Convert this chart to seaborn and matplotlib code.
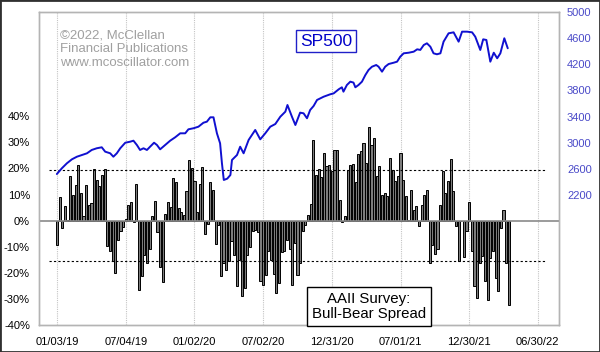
import numpy as np
import pandas as pd
import matplotlib
matplotlib.use("Agg")
import matplotlib.pyplot as plt
import matplotlib.dates as mdates
from matplotlib.patches import Rectangle
import seaborn as sns

# ---------------- data ----------------
START = "2019-01-03"  # first weekly AAII reading (Thursday)

# AAII bull-bear spread (%), weekly
spread = [
    -9.5, 8.9, -2.8, 5.5, 0.3, 17.0, 10.0, 13.8, 21.5, 10.6,
    1.7, 13.5, 6.1, 6.8, 19.8, 15.7, 13.3, 17.4, 19.8, -9.6,
    -11.5, -15.3, -20.0, -7.6, -3.8, -2.3, 0.8, 6.1, 7.2, -0.5,
    14.1, -26.4, -21.3, -13.0, -16.2, -11.0, 1.7, 7.5, -4.3, -17.7,
    -23.4, 2.6, 7.2, 5.4, 16.3, 15.0, 5.0, 3.2, 2.3, 11.4,
    23.4, 20.2, 15.3, 3.2, 14.1, 20.4, -5.0, -1.3, 14.9, 11.9,
    -8.9, -1.5, -21.3, -16.2, -18.8, -15.5, -7.9, -13.0, -25.0, -15.0,
    -29.0, -26.0, -13.0, -10.0, -4.0, -3.5, -4.5, -23.2, -24.5, -21.0,
    -11.7, -15.0, -20.5, -27.7, -24.0, -12.0, -11.5, -7.5, -11.0, -24.5,
    -8.5, -21.0, -16.2, -4.0, -1.5, 2.3, 6.4, 30.8, 17.6, 19.8,
    16.7, 25.9, 20.8, 21.5, 19.0, 27.2, 27.2, 8.0, -0.5, 1.7,
    19.5, 21.2, 21.7, 14.8, 25.5, 26.6, 29.8, 22.1, 36.1, 29.1,
    31.7, 17.0, 20.8, 10.0, 10.6, 9.3, 24.0, 19.5, 15.1, 17.0,
    25.9, 15.7, 9.3, 0.3, 11.9, 4.2, 5.5, -2.2, 6.1, 10.0,
    11.9, -16.2, -9.5, -12.6, -11.0, 6.1, 19.2, 10.6, 15.1, 23.6,
    11.2, -2.2, -15.6, -0.3, -14.0, -4.1, 7.2, -11.7, -25.2, -29.6,
    -16.2, -13.7, -23.2, -30.3, -14.3, -11.7, -22.0, -27.1, -2.8, 4.2,
    -16.2, -32.2,
]

# SP500 readings: time in weeks after START, and index level
sp_weeks = [
    -0.1, 1.8, 3.7, 5.6, 7.5, 9.4, 11.3, 13.1, 15.0, 16.9, 18.2, 20.1, 21.3, 22.6,
    23.9, 25.8, 27.7, 28.9, 30.2, 31.4, 32.7, 34.0, 35.2, 36.7, 37.8, 39.0, 40.9,
    42.8, 44.7, 46.6, 48.5, 49.7, 51.6, 53.5, 55.4, 56.7, 58.0, 59.2, 60.5, 61.7,
    62.4, 63.1, 64.4, 65.6, 66.2, 68.1, 69.3, 70.6, 72.5, 75.0, 76.9, 78.8, 80.7,
    82.6, 84.5, 86.4, 87.2, 88.9, 90.2, 92.0, 93.3, 94.6, 95.8, 97.1, 98.4, 100.9,
    103.4, 104.7, 106.6, 107.8, 108.4, 109.7, 111.0, 112.2, 112.9, 114.1, 115.4,
    116.7, 117.9, 119.2, 120.8, 121.7, 123.0, 124.2, 125.5, 127.4, 128.7, 129.9,
    131.2, 133.1, 135.0, 136.3, 137.5, 138.8, 140.0, 141.3, 142.5, 143.8, 145.1,
    146.3, 148.2, 150.1, 152.0, 153.3, 155.2, 157.1, 158.3, 160.2, 161.3, 162.5,
    164.0, 165.3, 166.6, 167.8, 169.3, 170.6,
]
sp_values = [
    2521, 2609, 2685, 2746, 2786, 2812, 2838, 2889, 2915, 2930, 2863, 2838, 2786, 2838,
    2915, 3000, 3016, 3031, 2965, 2889, 2915, 2889, 2939, 3000, 2965, 2899, 2965,
    3031, 3083, 3144, 3144, 3205, 3221, 3245, 3306, 3322, 3389, 3389, 3144, 2991,
    2685, 2430, 2450, 2506, 2736, 2812, 2939, 2838, 3042, 3195, 3052, 3144, 3245,
    3286, 3398, 3475, 3577, 3398, 3271, 3460, 3450, 3374, 3501, 3562, 3654, 3704,
    3741, 3755, 3817, 3848, 3781, 3883, 3934, 3920, 3848, 3883, 3934,
    4036, 4113, 4163, 4189, 4163, 4087, 4163, 4204, 4224, 4240, 4316,
    4368, 4377, 4393, 4429, 4420, 4495, 4521, 4469, 4368, 4353, 4368,
    4546, 4674, 4689, 4546, 4699, 4699, 4689, 4622, 4419, 4582, 4572,
    4240, 4377, 4292, 4368, 4598, 4445,
]

bull_level = 19.3    # upper dotted reference line (%)
bear_level = -15.6   # lower dotted reference line (%)

pct_ticks = [-40, -30, -20, -10, 0, 10, 20, 30, 40]
pct_labels = [f"{v}%" for v in pct_ticks]
sp_ticks = [2200, 2600, 3000, 3400, 3800, 4200, 4600, 5000]
sp_labels = [str(v) for v in sp_ticks]
date_ticks = ["2019-01-03", "2019-07-04", "2020-01-02", "2020-07-02",
              "2020-12-31", "2021-07-01", "2021-12-30", "2022-06-30"]
date_labels = ["01/03/19", "07/04/19", "01/02/20", "07/02/20",
               "12/31/20", "07/01/21", "12/30/21", "06/30/22"]
x_range = ["2018-11-16", "2022-08-25"]

notice_text = "\u00a92022, McClellan\nFinancial Publications\nwww.mcoscillator.com"
sp_title = "SP500"
survey_title = "AAII Survey:\nBull-Bear Spread"

# ---------------- style ----------------
sns.set_style("white")
plt.rcParams["font.family"] = ["Liberation Sans", "DejaVu Sans"]

assert len(sp_weeks) == len(sp_values)

bar_x = mdates.date2num(pd.date_range(START, periods=len(spread), freq="7D"))
sp_x = mdates.date2num(pd.Timestamp(START) + pd.to_timedelta(np.array(sp_weeks) * 7, unit="D"))

W, H = 600, 352
fig = plt.figure(figsize=(W / 100, H / 100), dpi=100)
fig.patch.set_facecolor("white")
ax = fig.add_axes([39 / W, 27 / H, 520 / W, 313 / H])

# vertical dotted grid
ax.set_axisbelow(True)
for d in date_ticks:
    ax.axvline(mdates.date2num(pd.Timestamp(d)), color="#c4c4c4",
               linestyle=(0, (1, 1)), linewidth=0.8, zorder=0)

sns.barplot(x=bar_x, y=spread, native_scale=True, orient="x", width=0.8,
            color="#7c7c7c", saturation=1, edgecolor="black", linewidth=0.7,
            errorbar=None, ax=ax, zorder=2)

ax.axhline(0, color="#8a8a8a", linewidth=1.2, zorder=3)
ax.axhline(bull_level, xmin=0.019, xmax=0.975, color="black",
           linestyle=(0, (2, 2)), linewidth=0.8, zorder=3)
ax.axhline(bear_level, xmin=0.019, xmax=0.975, color="black",
           linestyle=(0, (2, 2)), linewidth=0.8, zorder=3)

ax.set_ylim(-40, 80)
ax.set_yticks(pct_ticks)
ax.set_yticklabels(pct_labels)
ax.set_xlabel("")
ax.set_ylabel("")

ax2 = ax.twinx()
sns.lineplot(x=sp_x, y=sp_values, ax=ax2, color="#1010d0", linewidth=1.4)
ax2.set_ylim(211, 5000)
ax2.set_yticks(sp_ticks)
ax2.set_yticklabels(sp_labels)
ax2.set_ylabel("")
ax2.set_xlabel("")

ax.set_xlim(mdates.date2num(pd.Timestamp(x_range[0])), mdates.date2num(pd.Timestamp(x_range[1])))
ax.set_xticks([mdates.date2num(pd.Timestamp(d)) for d in date_ticks])
ax.set_xticklabels(date_labels)

ax.tick_params(axis="x", length=0, pad=8.5, labelsize=8, labelcolor="black")
ax.tick_params(axis="y", length=0, pad=6.5, labelsize=8, labelcolor="black")
ax2.tick_params(axis="y", length=0, pad=5.8, labelsize=8, labelcolor="#4a4ac8")

for a in (ax, ax2):
    for s in a.spines.values():
        s.set_color("#b4b4b4")
        s.set_linewidth(1.0)

# annotations
fig.text(60 / W, 1 - 29 / H, notice_text, color="#a0a0a0", fontsize=9.5,
         ha="left", va="top", linespacing=1.25)

ax2.text((326 - 39) / 520, 1 - (41 - 12) / 313, sp_title, transform=ax2.transAxes,
         color="#0000c8", fontsize=12.5, ha="center", va="center", zorder=10,
         bbox=dict(boxstyle="square,pad=0.22", fc="white", ec="#2020c8", lw=1.0))

ax2.text((369 - 39) / 520, 1 - (306.5 - 12) / 313, survey_title, transform=ax2.transAxes,
         color="black", fontsize=10.8, ha="center", va="center", zorder=10,
         linespacing=1.15, clip_on=False,
         bbox=dict(boxstyle="square,pad=0.3", fc="white", ec="black", lw=1.0))

# outer frame
fig.add_artist(Rectangle((0, 0), 1, 1, transform=fig.transFigure, fill=False,
                         edgecolor="#303030", linewidth=2.0))

fig.savefig("out.png", dpi=100, facecolor="white")
